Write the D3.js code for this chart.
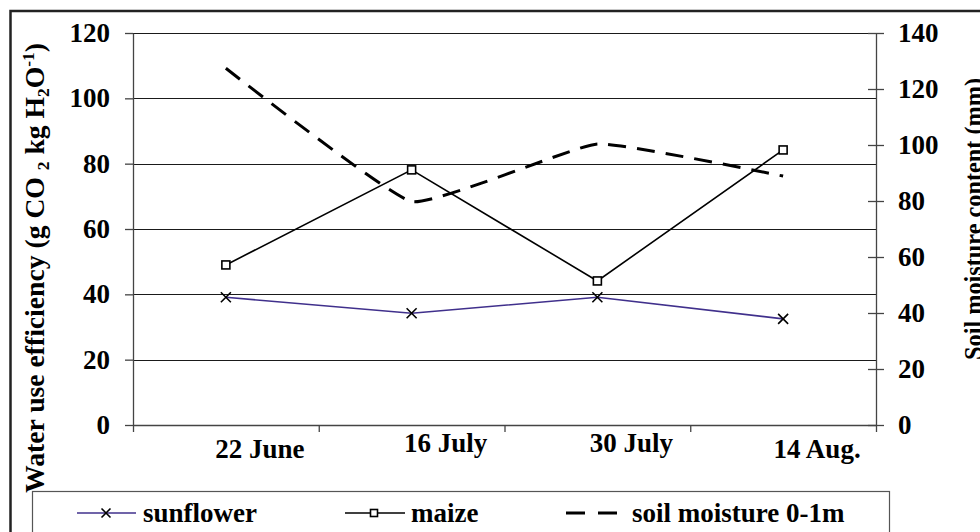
<!DOCTYPE html>
<html><head><meta charset="utf-8">
<script src="https://cdn.jsdelivr.net/npm/d3@7"></script>
<style>
html,body{margin:0;padding:0;background:#fff;}
svg{display:block;}
svg text, svg tspan{font-family:"Liberation Serif","DejaVu Serif",serif !important;font-weight:bold;fill:#000;}
</style></head>
<body>
<svg id="chart" width="980" height="532" font-family="Liberation Serif"></svg>
<script>
const categories = ["22 June", "16 July", "30 July", "14 Aug."];
const sunflower = [39.1, 34.2, 39.1, 32.5];
const maize = [49.0, 78.1, 44.1, 84.2];
const soilMoisture = [127.4, 79.8, 100.4, 88.9];
const leftTicks = [0, 20, 40, 60, 80, 100, 120];
const rightTicks = [0, 20, 40, 60, 80, 100, 120, 140];
const legendLabels = ["sunflower", "maize", "soil moisture 0-1m"];

const FONT = "Liberation Serif";
const FS = "27px";
const svg = d3.select("#chart");
const L = 133, R = 876, T = 33, B = 425;

const x = d3.scaleBand().domain(categories).range([L, R]).paddingInner(0).paddingOuter(0);
const xi = d3.scaleLinear().domain([0, categories.length]).range([L, R]);
const yL = d3.scaleLinear().domain([0, 120]).range([B, T]);
const yR = d3.scaleLinear().domain([0, 140]).range([B, T]);
const cx = d => x(d) + x.bandwidth() / 2;

// outer frame
svg.append("rect").attr("x", 10.5).attr("y", 11).attr("width", 990).attr("height", 560)
  .attr("fill", "none").attr("stroke", "#222").attr("stroke-width", 2.5);

// gridlines
svg.append("g").selectAll("line").data(leftTicks.filter(v => v > 0)).join("line")
  .attr("x1", L).attr("x2", R)
  .attr("y1", d => Math.round(yL(d)) + 0.5).attr("y2", d => Math.round(yL(d)) + 0.5)
  .attr("stroke", "#1a1a1a").attr("stroke-width", 1);

// left axis
const gL = svg.append("g").attr("transform", `translate(${L},0)`)
  .call(d3.axisLeft(yL).tickValues(leftTicks).tickSize(8).tickPadding(15).tickSizeOuter(0));
gL.attr("font-family", FONT);
gL.selectAll("text").style("font-size", FS).attr("font-family", FONT);
gL.selectAll("line,path").attr("stroke", "#444").attr("stroke-width", 1.3);

// right axis
const gR = svg.append("g").attr("transform", `translate(${R},0)`)
  .call(d3.axisRight(yR).tickValues(rightTicks).tickSize(8).tickPadding(14).tickSizeOuter(0));
gR.attr("font-family", FONT);
gR.selectAll(".tick line").attr("x1", -8).attr("x2", 8);
gR.selectAll("text").style("font-size", FS).attr("font-family", FONT);
gR.selectAll("line,path").attr("stroke", "#444").attr("stroke-width", 1.3);

// bottom axis ticks at category boundaries
const gB = svg.append("g").attr("transform", `translate(0,${B})`)
  .call(d3.axisBottom(xi).tickValues(d3.range(categories.length + 1)).tickFormat("").tickSize(7).tickSizeOuter(0));
gB.selectAll("line,path").attr("stroke", "#444").attr("stroke-width", 1.3);

// bottom labels
const gBL = svg.append("g").attr("transform", `translate(0,${B})`)
  .call(d3.axisBottom(x).tickSize(0).tickPadding(0));
gBL.attr("font-family", FONT);
gBL.select(".domain").remove();
gBL.selectAll("text").style("font-size", FS).attr("font-family", FONT)
  .attr("dx", 34).attr("dy", null)
  .attr("y", (d, i) => (i === 0 || i === 3) ? 33 : 27);

// sunflower line
const lineL = d3.line().x((d, i) => cx(categories[i])).y(d => yL(d));
svg.append("path").datum(sunflower).attr("d", lineL)
  .attr("fill", "none").attr("stroke", "#40308c").attr("stroke-width", 1.6);
// maize line
svg.append("path").datum(maize).attr("d", lineL)
  .attr("fill", "none").attr("stroke", "#000").attr("stroke-width", 1.6);
// soil moisture (smoothed)
const lineR = d3.line().x((d, i) => cx(categories[i])).y(d => yR(d)).curve(d3.curveCardinal.tension(0.65));
svg.append("path").datum(soilMoisture).attr("d", lineR)
  .attr("fill", "none").attr("stroke", "#000").attr("stroke-width", 3)
  .attr("stroke-dasharray", "18,11");

// markers
function xMark(g, px, py, s) {
  g.append("path").attr("d", `M${px - s},${py - s}L${px + s},${py + s}M${px - s},${py + s}L${px + s},${py - s}`)
    .attr("stroke", "#000").attr("stroke-width", 1.6).attr("fill", "none");
}
function sqMark(g, px, py, s) {
  g.append("rect").attr("x", px - s).attr("y", py - s).attr("width", 2 * s).attr("height", 2 * s)
    .attr("fill", "#fff").attr("stroke", "#000").attr("stroke-width", 1.6);
}
const gm = svg.append("g");
sunflower.forEach((v, i) => xMark(gm, cx(categories[i]), yL(v), 5));
maize.forEach((v, i) => sqMark(gm, cx(categories[i]), yL(v), 4));

// axis titles
const tL = svg.append("text").attr("transform", "translate(44,268) rotate(-90)")
  .attr("font-family", FONT)
  .attr("text-anchor", "middle").style("font-size", "27px")
  .attr("textLength", 450).attr("lengthAdjust", "spacingAndGlyphs");
tL.append("tspan").text("Water use efficiency (g CO ");
tL.append("tspan").attr("dy", 5).style("font-size", "17px").text("2");
tL.append("tspan").attr("dy", -5).text(" kg H");
tL.append("tspan").attr("dy", 5).style("font-size", "17px").text("2");
tL.append("tspan").attr("dy", -5).text("O");
tL.append("tspan").attr("dy", -10).style("font-size", "17px").text("-1");
tL.append("tspan").attr("dy", 10).text(")");

svg.append("text").attr("transform", "translate(982,219) rotate(-90)")
  .attr("font-family", FONT)
  .attr("text-anchor", "middle").style("font-size", "25px")
  .attr("textLength", 282).attr("lengthAdjust", "spacingAndGlyphs")
  .text("Soil moisture content (mm)");

// legend
svg.append("rect").attr("x", 32.5).attr("y", 491.5).attr("width", 857).attr("height", 60)
  .attr("fill", "#fff").attr("stroke", "#555").attr("stroke-width", 1.2);
const ly = 513, lty = 522;
const lg = svg.append("g").attr("font-family", FONT);
lg.append("line").attr("x1", 77).attr("x2", 136).attr("y1", ly).attr("y2", ly)
  .attr("stroke", "#40308c").attr("stroke-width", 1.6);
xMark(lg, 106, ly, 4.5);
lg.append("text").attr("x", 143).attr("y", lty).style("font-size", FS).text(legendLabels[0]);
lg.append("line").attr("x1", 345).attr("x2", 405).attr("y1", ly).attr("y2", ly)
  .attr("stroke", "#000").attr("stroke-width", 1.6);
sqMark(lg, 374, ly, 3.5);
lg.append("text").attr("x", 411).attr("y", lty).style("font-size", FS).text(legendLabels[1]);
lg.append("line").attr("x1", 566).attr("x2", 618).attr("y1", ly).attr("y2", ly)
  .attr("stroke", "#000").attr("stroke-width", 3).attr("stroke-dasharray", "19,13");
lg.append("text").attr("x", 632).attr("y", lty).style("font-size", FS).text(legendLabels[2]);
</script>
</body></html>
